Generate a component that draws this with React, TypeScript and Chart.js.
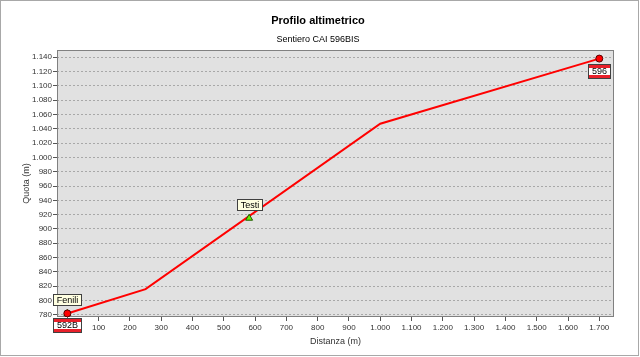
import React, { useEffect, useRef } from 'react';
import { Chart, registerables } from 'chart.js';

Chart.register(...registerables);

// ---- data ----
const profileDistance = [0, 250, 1000, 1700];
const profileElevation = [782, 816, 1047, 1138];

const endpointNames = ['592B', '596'];
const endpointDistance = [0, 1700];
const endpointElevation = [782, 1138];

const waypointNames = ['Fenili', 'Testi'];
const waypointDistance = [0, 581];
const waypointElevation = [782, 915];

const yTickValues = [780, 800, 820, 840, 860, 880, 900, 920, 940, 960, 980, 1000, 1020, 1040, 1060, 1080, 1100, 1120, 1140];
const xTickValues = [0, 100, 200, 300, 400, 500, 600, 700, 800, 900, 1000, 1100, 1200, 1300, 1400, 1500, 1600, 1700];

const titleText = 'Profilo altimetrico';
const subtitleText = 'Sentiero CAI 596BIS';
const xTitle = 'Distanza (m)';
const yTitle = 'Quota (m)';

const FONT = '"Liberation Sans", Arial, sans-serif';

const fmt = (v: number) => {
  const s = String(Math.round(v));
  return s.replace(/\B(?=(\d{3})+(?!\d))/g, '.');
};

const framePlugin = {
  id: 'frame',
  beforeDraw(chart: any) {
    const { ctx, chartArea: a, width, height } = chart;
    ctx.save();
    ctx.fillStyle = '#ffffff';
    ctx.fillRect(0, 0, width, height);
    ctx.strokeStyle = '#a8a8a8';
    ctx.lineWidth = 1;
    ctx.strokeRect(0.5, 0.5, width - 2, height - 2);
    ctx.fillStyle = '#e1e1e1';
    ctx.fillRect(a.left, a.top, a.right - a.left, a.bottom - a.top);
    ctx.restore();
  },
  beforeDatasetsDraw(chart: any) {
    const { ctx, chartArea: a } = chart;
    ctx.save();
    ctx.strokeStyle = '#808080';
    ctx.lineWidth = 1;
    ctx.strokeRect(Math.round(a.left) + 0.5, Math.round(a.top) + 0.5, Math.round(a.right - a.left) - 1, Math.round(a.bottom - a.top) - 1);
    ctx.restore();
  },
};

const labelPlugin = {
  id: 'trailLabels',
  afterDraw(chart: any) {
    const ctx = chart.ctx;
    const xs = chart.scales.x;
    const ys = chart.scales.y;
    ctx.save();
    ctx.font = '9px ' + FONT;
    ctx.textAlign = 'center';
    ctx.textBaseline = 'middle';
    ctx.lineWidth = 1;
    waypointNames.forEach((name, i) => {
      const px = xs.getPixelForValue(waypointDistance[i]);
      const py = ys.getPixelForValue(waypointElevation[i]);
      const w = Math.round(ctx.measureText(name).width + 6);
      const h = 11;
      const left = Math.round(px - w / 2) + 0.5;
      const top = Math.round(py - 8.5 - h) + 0.5;
      ctx.fillStyle = '#ffffe1';
      ctx.fillRect(left, top, w, h);
      ctx.strokeStyle = '#404040';
      ctx.strokeRect(left, top, w, h);
      ctx.fillStyle = '#000000';
      ctx.fillText(name, left + w / 2, top + h / 2 + 0.5);
    });
    endpointNames.forEach((name, i) => {
      const px = xs.getPixelForValue(endpointDistance[i]);
      const py = ys.getPixelForValue(endpointElevation[i]);
      const w = Math.round(ctx.measureText(name).width + 7);
      const h = 14;
      const left = Math.round(px - w / 2) + 0.5;
      const top = Math.round(py + 5) + 0.5;
      ctx.fillStyle = '#ffffff';
      ctx.fillRect(left, top, w, h);
      ctx.fillStyle = '#e8202a';
      ctx.fillRect(left, top, w, 3.5);
      ctx.fillRect(left, top + h - 3.5, w, 3.5);
      ctx.strokeStyle = '#404040';
      ctx.strokeRect(left, top, w, h);
      ctx.fillStyle = '#000000';
      ctx.fillText(name, left + w / 2, top + h / 2 + 0.5);
    });
    ctx.restore();
  },
};

export default function App() {
  const ref = useRef<HTMLCanvasElement | null>(null);

  useEffect(() => {
    document.body.style.margin = '0';
    const canvas = ref.current;
    if (!canvas) return;
    const chart = new Chart(canvas, {
      type: 'scatter',
      data: {
        datasets: [
          {
            label: 'Profilo',
            data: profileDistance.map((x, i) => ({ x, y: profileElevation[i] })),
            showLine: true,
            borderColor: '#ff0000',
            borderWidth: 2,
            pointRadius: 0,
            order: 3,
          },
          {
            label: 'Punti',
            data: waypointDistance.map((x, i) => ({ x, y: waypointElevation[i] })),
            showLine: false,
            pointStyle: 'triangle',
            pointRadius: 4,
            backgroundColor: '#66ee00',
            borderColor: '#1f5a00',
            borderWidth: 1,
            order: 2,
          },
          {
            label: 'Sentieri',
            data: endpointDistance.map((x, i) => ({ x, y: endpointElevation[i] })),
            showLine: false,
            pointStyle: 'circle',
            pointRadius: 3.5,
            backgroundColor: '#ff0000',
            borderColor: '#5a0000',
            borderWidth: 1,
            order: 1,
          },
        ],
      },
      options: {
        responsive: false,
        animation: false,
        devicePixelRatio: 1,
        layout: { padding: { left: 0, right: 4, top: 0, bottom: 10 } },
        plugins: {
          legend: { display: false },
          tooltip: { enabled: false },
          title: {
            display: true,
            text: titleText,
            color: '#000000',
            font: { family: FONT, size: 11, weight: 'bold' },
            padding: { top: 14, bottom: 4 },
          },
          subtitle: {
            display: true,
            text: subtitleText,
            color: '#000000',
            font: { family: FONT, size: 9 },
            padding: { top: 3.4, bottom: 4.6 },
          },
        },
        scales: {
          x: {
            type: 'linear',
            min: -33,
            max: 1747,
            afterBuildTicks: (scale: any) => {
              scale.ticks = xTickValues.map((v) => ({ value: v }));
            },
            afterFit: (scale: any) => {
              scale.height = 30;
            },
            ticks: {
              autoSkip: false,
              maxRotation: 0,
              padding: 2,
              color: '#333333',
              font: { family: FONT, size: 8 },
              callback: (v: any) => fmt(Number(v)),
            },
            grid: {
              drawOnChartArea: false,
              drawTicks: true,
              tickLength: 4,
              tickColor: '#555555',
            },
            border: { display: false },
            title: {
              display: true,
              text: xTitle,
              color: '#333333',
              font: { family: FONT, size: 9 },
              padding: { top: 1, bottom: 0 },
            },
          },
          y: {
            type: 'linear',
            min: 777,
            max: 1150,
            afterBuildTicks: (scale: any) => {
              scale.ticks = yTickValues.map((v) => ({ value: v }));
            },
            afterFit: (scale: any) => {
              scale.width = 57;
            },
            ticks: {
              autoSkip: false,
              padding: 1,
              color: '#333333',
              font: { family: FONT, size: 8 },
              callback: (v: any) => fmt(Number(v)),
            },
            grid: {
              color: '#a8a8a8',
              lineWidth: 1,
              drawTicks: true,
              tickLength: 4,
              tickColor: '#555555',
              tickBorderDash: [],
            },
            border: { display: false, dash: [2, 2] },
            title: {
              display: true,
              text: yTitle,
              color: '#333333',
              font: { family: FONT, size: 9 },
              padding: { top: 21, bottom: 0 },
            },
          },
          yRight: {
            type: 'linear',
            position: 'right',
            display: true,
            min: 777,
            max: 1150,
            afterFit: (scale: any) => {
              scale.width = 22;
            },
            ticks: { display: false },
            grid: { display: false, drawTicks: false },
            border: { display: false },
          },
        },
      },
      plugins: [framePlugin, labelPlugin],
    } as any);
    return () => chart.destroy();
  }, []);

  return <canvas ref={ref} width={640} height={357} style={{ display: 'block' }} />;
}
